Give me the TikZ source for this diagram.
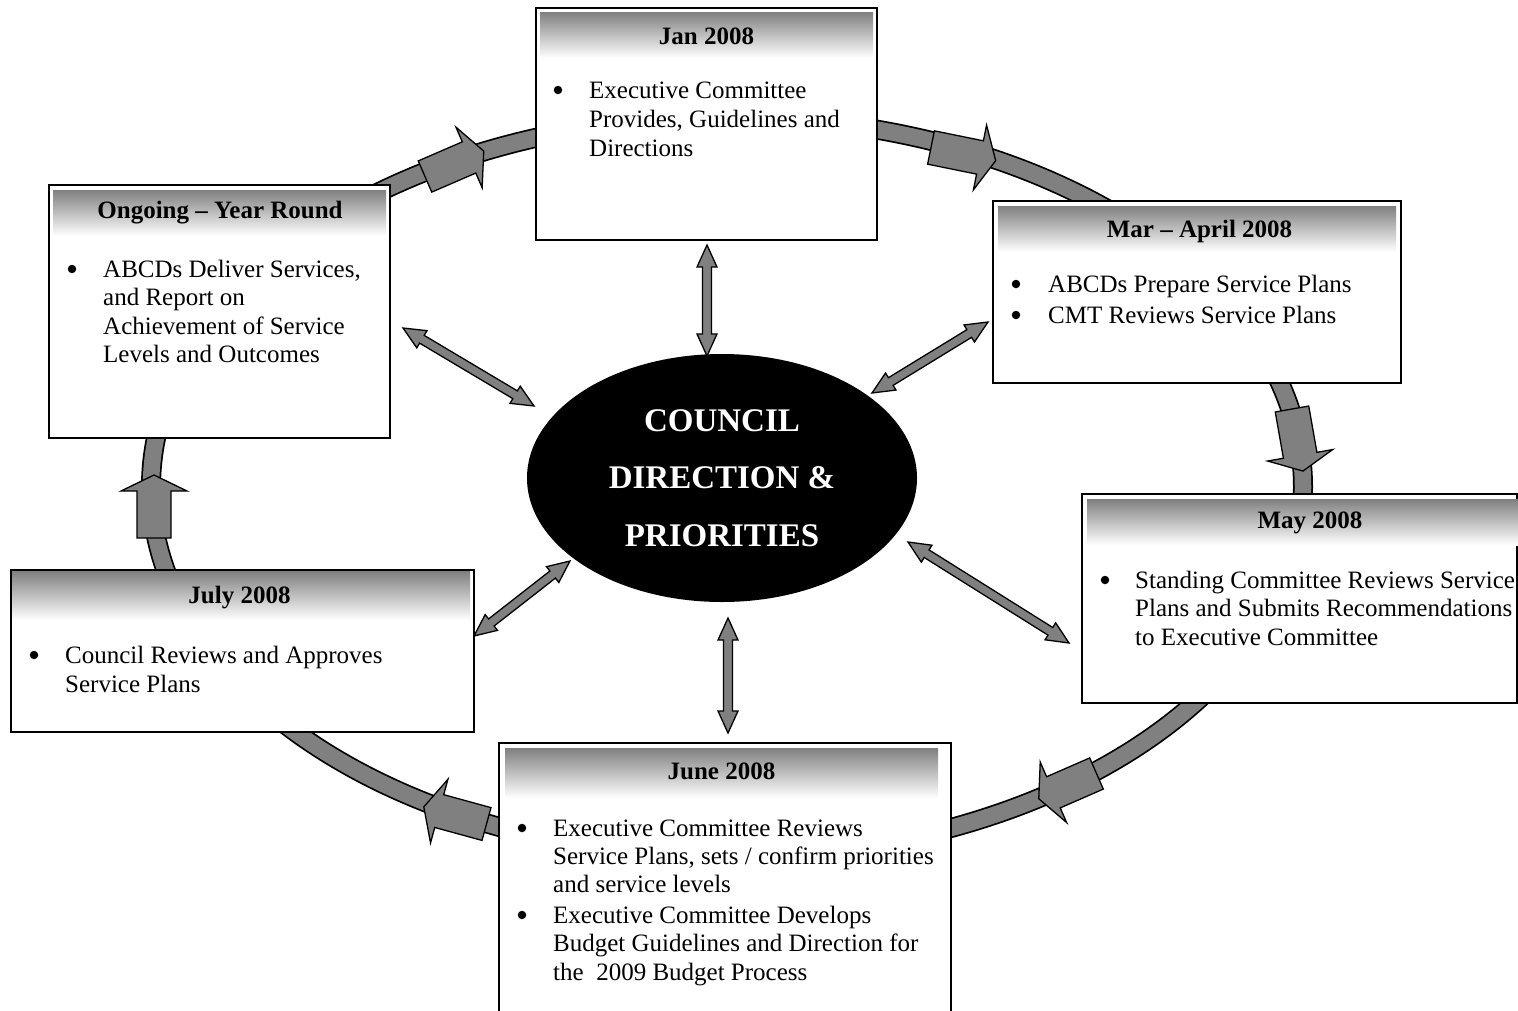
\documentclass[tikz,border=0pt]{standalone}
\usepackage{fontspec}
\setmainfont{Liberation Serif}
\usetikzlibrary{calc,shapes.geometric}
\tikzset{
 boxnode/.style={draw=black, line width=1.6, fill=white, rectangle, inner sep=0},
 band/.style={top color=gray, bottom color=white, draw=none},
 ttl/.style={font=\fontsize{25}{29}\selectfont\bfseries, anchor=base, inner sep=0},
 txt/.style={anchor=base west, inner sep=0},
 bul/.style={circle, fill=black, inner sep=0, minimum size=8.5},
 ringarrow/.style={fill=gray, draw=black, line width=1.3, line join=miter},
 dblarrow/.style={fill=gray, draw=black, line width=1.3, line join=miter},
 ringline/.style={draw=black, line width=20},
 ringfill/.style={draw=gray, line width=16.5},
}
% block arrow on the ring: start x, start y, pixel angle, body length
\newcommand\ringarr[4]{%
 \draw[ringarrow] ($(#1,#2)+(#3+90:17)$) -- ($(#1,#2)+(#3:#4)+(#3+90:17)$)
  -- ($(#1,#2)+(#3:#4)+(#3+90:33)$) -- ($(#1,#2)+(#3:#4+16)$)
  -- ($(#1,#2)+(#3:#4)+(#3-90:33)$) -- ($(#1,#2)+(#3:#4)+(#3-90:17)$)
  -- ($(#1,#2)+(#3-90:17)$) -- cycle;}
% double block arrow between two named coordinates
\newcommand\dblarr[2]{%
 \draw[dblarrow] let \p1=($(#2)-(#1)$), \n1={atan2(\y1,\x1)} in
  (#1) -- ($(#1)+(\n1:22pt)+(\n1+90:10pt)$) -- ($(#1)+(\n1:22pt)+(\n1+90:4.5pt)$)
  -- ($(#2)+(\n1:-22pt)+(\n1+90:4.5pt)$) -- ($(#2)+(\n1:-22pt)+(\n1+90:10pt)$) -- (#2)
  -- ($(#2)+(\n1:-22pt)+(\n1-90:10pt)$) -- ($(#2)+(\n1:-22pt)+(\n1-90:4.5pt)$)
  -- ($(#1)+(\n1:22pt)+(\n1-90:4.5pt)$) -- ($(#1)+(\n1:22pt)+(\n1-90:10pt)$) -- cycle;}
\begin{document}
\begin{tikzpicture}[x=1pt,y=-1pt,font=\fontsize{25}{29}\selectfont]
\path[use as bounding box] (0,0) rectangle (1518,1010);
\clip (0,0) rectangle (1518,1010);
\fill[white] (0,0) rectangle (1518,1010);

% ring
\draw[ringline] (727,487) ellipse [x radius=576, y radius=370];
\draw[ringfill] (727,487) ellipse [x radius=576, y radius=370];

% arrows on the ring
\ringarr{425}{176.5}{-23.4}{48}
\ringarr{931}{147.5}{11.5}{50}
\ringarr{1292}{409}{80}{47}
\ringarr{1096.5}{773.5}{156.4}{47}
\ringarr{486.5}{824}{195.3}{49}
\ringarr{154}{538}{-90}{47}

% Jan 2008
\node[boxnode, minimum width=341, minimum height=232] (jan) at (706.5,124) {};
\fill[band] (540,12) rectangle (873,58);
\node[ttl] (jant) at (706.5,44) {Jan 2008};
\node[bul] (janb1) at (558,90) {};
\node[txt] (jan1) at (589,98) {Executive Committee};
\node[txt] (jan2) at (589,127) {Provides, Guidelines and};
\node[txt] (jan3) at (589,156) {Directions};

% Ongoing
\node[boxnode, minimum width=341, minimum height=253] (ongoing) at (219.5,311.5) {};
\fill[band] (53,190) rectangle (386,236);
\node[ttl] (ongt) at (220,218) {Ongoing – Year Round};
\node[bul] (ongb1) at (72,269) {};
\node[txt] (ong1) at (103,277) {ABCDs Deliver Services,};
\node[txt] (ong2) at (103,305.5) {and Report on};
\node[txt] (ong3) at (103,334) {Achievement of Service};
\node[txt] (ong4) at (103,362.5) {Levels and Outcomes};

% Mar - April 2008
\node[boxnode, minimum width=408, minimum height=182] (mar) at (1197,292) {};
\fill[band] (998,206) rectangle (1396,252);
\node[ttl] (mart) at (1199.5,237) {Mar – April 2008};
\node[bul] (marb1) at (1016,284) {};
\node[txt] (mar1) at (1048,292) {ABCDs Prepare Service Plans};
\node[bul] (marb2) at (1016,315) {};
\node[txt] (mar2) at (1048,323) {CMT Reviews Service Plans};

% May 2008
\node[boxnode, minimum width=435, minimum height=209] (may) at (1299.5,598.5) {};
\fill[band] (1087,499) rectangle (1518,545);
\node[ttl] (mayt) at (1310,528) {May 2008};
\node[bul] (mayb1) at (1105,580) {};
\node[txt] (may1) at (1135,588) {Standing Committee Reviews Service};
\node[txt] (may2) at (1135,616.5) {Plans and Submits Recommendations};
\node[txt] (may3) at (1135,645) {to Executive Committee};

% July 2008
\node[boxnode, minimum width=463, minimum height=162] (july) at (242.5,651) {};
\fill[band] (12,571) rectangle (470,620);
\node[ttl] (julyt) at (239.5,603) {July 2008};
\node[bul] (julyb1) at (34,655) {};
\node[txt] (july1) at (65,663) {Council Reviews and Approves};
\node[txt] (july2) at (65,692) {Service Plans};

% June 2008
\node[boxnode, minimum width=452, minimum height=287] (june) at (725,886.5) {};
\fill[band] (505,748) rectangle (938,798);
\node[ttl] (junet) at (721.5,779) {June 2008};
\node[bul] (juneb1) at (522,828) {};
\node[txt] (june1) at (553,836) {Executive Committee Reviews};
\node[txt] (june2) at (553,864) {Service Plans, sets / confirm priorities};
\node[txt] (june3) at (553,892) {and service levels};
\node[bul] (juneb2) at (522,915) {};
\node[txt] (june4) at (553,923) {Executive Committee Develops};
\node[txt] (june5) at (553,951) {Budget Guidelines and Direction for};
\node[txt] (june6) at (553,980) {the\ \ 2009 Budget Process};

% centre
\node[ellipse, fill=black, minimum width=390, minimum height=248, inner sep=0,
      text=white, font=\fontsize{33}{57.5}\selectfont\bfseries, align=center]
      (council) at (722,478) {COUNCIL\\DIRECTION \&\\PRIORITIES};

% double arrows
\coordinate (d1a) at (707,245); \coordinate (d1b) at (707,356);
\coordinate (d2a) at (403,328); \coordinate (d2b) at (534,406);
\coordinate (d3a) at (988,322); \coordinate (d3b) at (872,393);
\coordinate (d4a) at (908,542); \coordinate (d4b) at (1069,643);
\coordinate (d5a) at (728,618); \coordinate (d5b) at (728,733);
\coordinate (d6a) at (570,561); \coordinate (d6b) at (474,636);
\dblarr{d1a}{d1b}
\dblarr{d2a}{d2b}
\dblarr{d3a}{d3b}
\dblarr{d4a}{d4b}
\dblarr{d5a}{d5b}
\dblarr{d6a}{d6b}
\end{tikzpicture}
\end{document}
